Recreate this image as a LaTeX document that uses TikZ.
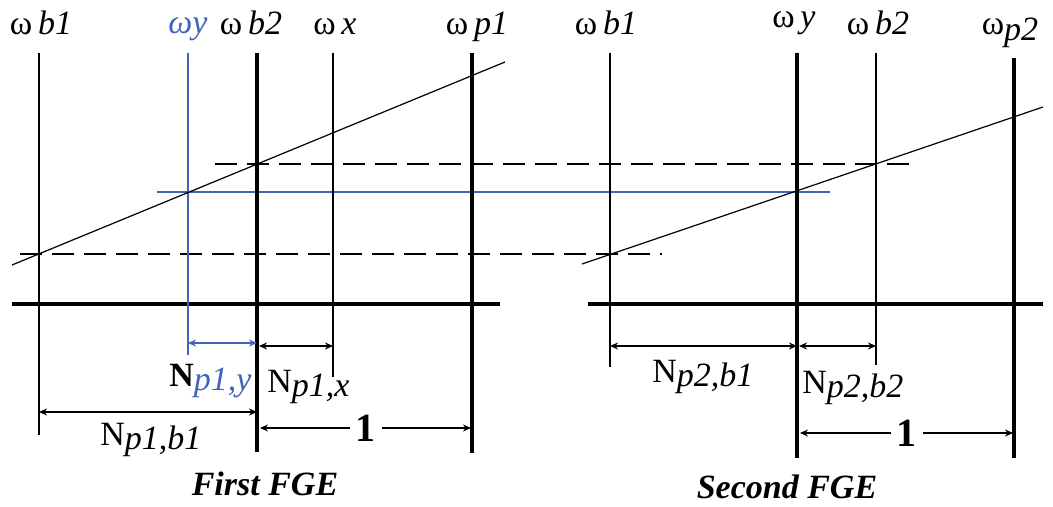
\documentclass[tikz,border=0pt]{standalone}
\usepackage{fontspec}
\setmainfont{Liberation Serif}
\usepackage{xcolor}
\definecolor{fgeblue}{RGB}{65,100,185}
\usepackage{tikz}
\usetikzlibrary{arrows.meta,calc}
\tikzset{
  thinline/.style={line width=0.7pt},
  thickline/.style={line width=2pt},
  blueline/.style={line width=0.8pt,draw=fgeblue},
  dashline/.style={line width=0.8pt,dash pattern=on 11pt off 5pt},
  slopeline/.style={line width=0.6pt},
  dim/.style={{Stealth[length=4pt,width=3.5pt]}-{Stealth[length=4pt,width=3.5pt]},line width=0.6pt},
  lbl/.style={font=\fontsize{17}{20}\selectfont,inner sep=0pt,anchor=base},
  caption/.style={font=\fontsize{17}{20}\selectfont\bfseries\itshape,inner sep=0pt,anchor=base},
}
\newcommand{\om}[1]{ω\,\textit{#1}}
\newcommand{\Nsub}[1]{N\raisebox{-2pt}{\textit{#1}}}

\begin{document}
\begin{tikzpicture}[x=0.5pt,y=-0.5pt]
\useasboundingbox (0,0) rectangle (1053,507);

% first FGE: verticals
\coordinate (ab1t) at (39,53);   \coordinate (ab1b) at (39,435);
\coordinate (ayt)  at (188,53);  \coordinate (ayb)  at (188,355);
\coordinate (ab2t) at (257,53);  \coordinate (ab2b) at (257,452);
\coordinate (axt)  at (333,53);  \coordinate (axb)  at (333,377);
\coordinate (ap1t) at (472,53);  \coordinate (ap1b) at (472,453);
% second FGE: verticals
\coordinate (bb1t) at (610,53);  \coordinate (bb1b) at (610,367);
\coordinate (byt)  at (797,53);  \coordinate (byb)  at (797,458);
\coordinate (bb2t) at (876,53);  \coordinate (bb2b) at (876,365);
\coordinate (bp2t) at (1014,58); \coordinate (bp2b) at (1014,458);

% dashed and blue levels
\draw[dashline] (215,164) -- (910,164);
\draw[dashline] (20,254) -- (662,254);
\draw[blueline] (157,192) -- (830,192);

% axes
\draw[thickline] (12,304) -- (500,304);
\draw[thickline] (588,304) -- (1043,304);

\draw[thinline] (ab1t) -- (ab1b);
\draw[blueline] (ayt) -- (ayb);
\draw[thickline] (ab2t) -- (ab2b);
\draw[thinline] (axt) -- (axb);
\draw[thickline] (ap1t) -- (ap1b);

\draw[thinline] (bb1t) -- (bb1b);
\draw[thickline] (byt) -- (byb);
\draw[thinline] (bb2t) -- (bb2b);
\draw[thickline] (bp2t) -- (bp2b);

% sloped lines
\draw[slopeline] (12,265) -- (505,62);
\draw[slopeline] (582,264) -- (1043,107);

% top labels
\node[lbl] (tab1) at (41,35) {\om{b1}};
\node[lbl,text=fgeblue] (tay) at (188,34) {\textit{ωy}};
\node[lbl] (tab2) at (251,35) {\om{b2}};
\node[lbl] (tax) at (335,35) {\om{x}};
\node[lbl] (tap1) at (477,35) {\om{p1}};
\node[lbl] (tbb1) at (606,35) {\om{b1}};
\node[lbl] (tby) at (794,28) {\om{y}};
\node[lbl] (tbb2) at (878,35) {\om{b2}};
\node[lbl] (tbp2) at (1010,35) {ω\raisebox{-3pt}{\textit{p2}}};

% dimensions, first FGE
\coordinate (d1a) at (188,343); \coordinate (d1b) at (257,343);
\coordinate (d2a) at (259,346); \coordinate (d2b) at (333,346);
\coordinate (d3a) at (39,412);  \coordinate (d3b) at (257,412);
\coordinate (d4a) at (260,428); \coordinate (d4b) at (471,428);
\draw[dim,draw=fgeblue,fgeblue] (d1a) -- (d1b);
\draw[dim] (d2a) -- (d2b);
\draw[dim] (d3a) -- (d3b);
\draw[dim] (d4a) -- node[lbl,anchor=center,fill=white,inner xsep=3pt,font=\fontsize{20}{22}\selectfont\bfseries] (one1) {1} (d4b);

\node[lbl,anchor=base east] (npy) at (252,386) {\textbf{N}\raisebox{-2pt}{\textcolor{fgeblue}{\textit{p1,y}}}};
\node[lbl,anchor=base west] (npx) at (267,392) {\Nsub{p1,x}};
\node[lbl,anchor=base west] (npb) at (100,445) {\Nsub{p1,b1}};
\node[caption] (cap1) at (265,495) {First FGE};

% dimensions, second FGE
\coordinate (e1a) at (610,346); \coordinate (e1b) at (797,346);
\coordinate (e2a) at (799,346); \coordinate (e2b) at (876,346);
\coordinate (e3a) at (800,433); \coordinate (e3b) at (1013,433);
\draw[dim] (e1a) -- (e1b);
\draw[dim] (e2a) -- (e2b);
\draw[dim] (e3a) -- node[lbl,anchor=center,fill=white,inner xsep=3pt,font=\fontsize{20}{22}\selectfont\bfseries] (one2) {1} (e3b);

\node[lbl,anchor=base west] (nqb1) at (652,382) {\Nsub{p2,b1}};
\node[lbl,anchor=base west] (nqb2) at (802,393) {\Nsub{p2,b2}};
\node[caption] (cap2) at (787,498) {Second FGE};
\end{tikzpicture}
\end{document}
